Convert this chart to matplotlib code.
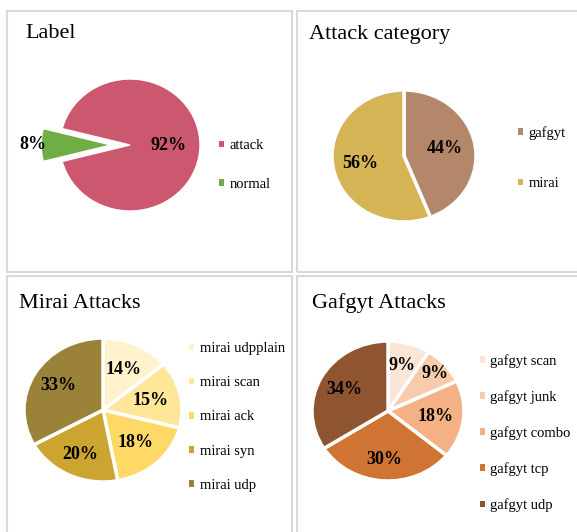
import numpy as np
import matplotlib.pyplot as plt
from matplotlib.patches import Rectangle, Patch

plt.rcParams['font.family'] = ['Liberation Serif', 'DejaVu Serif']

W, H = 577, 532

# Data
label_names = ['attack', 'normal']
label_vals = [92, 8]
label_colors = ['#CC5870', '#70AD47']

cat_names = ['gafgyt', 'mirai']
cat_vals = [44, 56]
cat_colors = ['#B4876A', '#D5B455']

mirai_names = ['mirai udpplain', 'mirai scan', 'mirai ack', 'mirai syn', 'mirai udp']
mirai_vals = [14, 15, 18, 20, 33]
mirai_colors = ['#FFF2CC', '#FFE699', '#FFD966', '#CCA530', '#9A8238']

gaf_names = ['gafgyt scan', 'gafgyt junk', 'gafgyt combo', 'gafgyt tcp', 'gafgyt udp']
gaf_vals = [9, 9, 18, 30, 34]
gaf_colors = ['#FBE5D6', '#F8CBAD', '#F4B183', '#D07434', '#8E5530']


def fig_axes(fig, cx, cy, rx, ry, L=1.6):
    w, h = 2 * L * rx, 2 * L * ry
    ax = fig.add_axes([(cx - w / 2) / W, 1 - (cy + h / 2) / H, w / W, h / H])
    return ax, L


def draw_pie(fig, cx, cy, rx, ry, vals, colors, names, start, dists,
             explode=None, lw=2.5, leg_x=0, leg_y=0, spacing=1.6):
    ax, L = fig_axes(fig, cx, cy, rx, ry)
    wedges, _ = ax.pie(vals, colors=colors, startangle=start, counterclock=False,
                       explode=explode, radius=1,
                       wedgeprops=dict(edgecolor='white', linewidth=lw))
    ax.set_aspect('auto')
    ax.set_xlim(-L, L)
    ax.set_ylim(-L, L)
    ax.axis('off')
    tot = sum(vals)
    for w, v, d in zip(wedges, vals, dists):
        ang = np.deg2rad((w.theta1 + w.theta2) / 2)
        x0, y0 = w.center
        ax.text(x0 + d * np.cos(ang), y0 + d * np.sin(ang), f'{round(100 * v / tot)}%',
                ha='center', va='center', fontsize=13, fontweight='bold')
    handles = [Patch(facecolor=c, edgecolor='none') for c in colors]
    ax.legend(handles, names, loc='center left', frameon=False,
              bbox_to_anchor=(leg_x / W, 1 - leg_y / H), bbox_transform=fig.transFigure,
              handlelength=0.32, handleheight=0.32, handletextpad=0.4,
              labelspacing=spacing, borderpad=0, borderaxespad=0, fontsize=10.5)
    return ax


fig = plt.figure(figsize=(W / 100, H / 100), dpi=100)

# panel borders
for (x0, y0, x1, y1) in [(7, 11, 292, 272), (297, 11, 580, 272),
                         (7, 276, 292, 540), (297, 276, 580, 540)]:
    fig.patches.append(Rectangle((x0 / W, 1 - y1 / H), (x1 - x0) / W, (y1 - y0) / H,
                                 transform=fig.transFigure, fill=False,
                                 edgecolor='#D9D9D9', linewidth=1.5))

draw_pie(fig, 130, 145, 70, 66, label_vals, label_colors, label_names,
         165.6, [0.55, 1.12], explode=[0, 0.27], lw=1, leg_x=219, leg_y=165, spacing=1.76)
draw_pie(fig, 404, 156, 72, 66, cat_vals, cat_colors, cat_names,
         90, [0.58, 0.62], leg_x=518, leg_y=158, spacing=2.56)
draw_pie(fig, 103, 410, 79, 72, mirai_vals, mirai_colors, mirai_names,
         90, [0.62, 0.62, 0.61, 0.68, 0.66], leg_x=189, leg_y=417, spacing=1.45)
draw_pie(fig, 388, 411, 76, 70, gaf_vals, gaf_colors, gaf_names,
         90, [0.68, 0.82, 0.63, 0.7, 0.65], leg_x=480, leg_y=433, spacing=1.53)

title_kw = dict(fontsize=16, va='center', ha='left')
fig.text(25 / W, 1 - 34 / H, 'Label', **title_kw)
fig.text(309 / W, 1 - 34 / H, 'Attack category', **title_kw)
fig.text(19 / W, 1 - 304 / H, 'Mirai Attacks', **title_kw)
fig.text(312 / W, 1 - 303 / H, 'Gafgyt Attacks', **title_kw)

fig.savefig('out.png', dpi=100)
